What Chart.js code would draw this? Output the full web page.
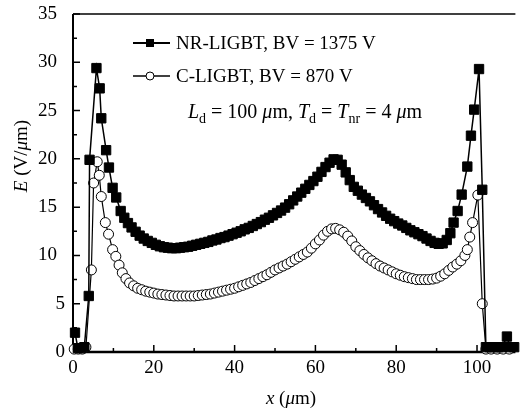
<!DOCTYPE html>
<html>
<head>
<meta charset="utf-8">
<script src="https://cdn.jsdelivr.net/npm/chart.js@4"></script>
<style>
  body { margin: 0; background: #fff; }
  canvas { display: block; }
</style>
</head>
<body>
<canvas id="field" width="523" height="411"></canvas>
<script>
// Electric field along the drift region
const nrX = [0.5, 1.2, 2.0, 2.8, 3.9, 4.1, 5.8, 6.6, 7.0, 8.2, 8.9, 9.8, 10.7, 11.8, 12.7,
  13.6, 14.5, 15.5, 16.5, 17.5, 18.5, 19.5, 20.5, 21.5, 22.5, 23.5, 24.5, 25.5, 26.5, 27.5,
  28.5, 29.5, 30.5, 31.5, 32.5, 33.5, 34.5, 35.5, 36.5, 37.5, 38.5, 39.5, 40.5, 41.5, 42.5,
  43.5, 44.5, 45.5, 46.5, 47.5, 48.5, 49.5, 50.5, 51.5, 52.5, 53.5, 54.5, 55.5, 56.5, 57.5,
  58.5, 59.5, 60.5, 61.5, 62.5, 63.5, 64.5, 65.5, 66.5, 67.5, 68.5, 69.5, 70.5, 71.5, 72.5,
  73.5, 74.5, 75.5, 76.5, 77.5, 78.5, 79.5, 80.5, 81.5, 82.5, 83.5, 84.5, 85.5, 86.5, 87.5,
  88.5, 89.5, 90.5, 91.5, 92.5, 93.4, 94.2, 95.2, 96.2, 97.6, 98.5, 99.3, 100.5, 101.3, 102.2,
  103.2, 104.2, 105.2, 106.2, 107.4, 108.2, 109.2];
const nrE = [2.0, 0.4, 0.4, 0.5, 5.8, 19.9, 29.4, 27.3, 24.2, 20.9, 19.1, 17.0, 16.0, 14.6, 13.9,
  13.35, 12.9, 12.45, 12.05, 11.75, 11.5, 11.3, 11.1, 10.95, 10.85, 10.8, 10.75, 10.75, 10.8, 10.85,
  10.9, 11.0, 11.1, 11.2, 11.3, 11.4, 11.55, 11.65, 11.8, 11.9, 12.05, 12.2, 12.35, 12.5, 12.7,
  12.85, 13.05, 13.25, 13.45, 13.7, 13.9, 14.15, 14.4, 14.65, 14.95, 15.3, 15.7, 16.1, 16.5, 16.9,
  17.3, 17.7, 18.15, 18.65, 19.15, 19.6, 19.95, 19.9, 19.4, 18.6, 17.8, 17.1, 16.7, 16.3, 15.95,
  15.6, 15.2, 14.8, 14.45, 14.1, 13.8, 13.55, 13.3, 13.1, 12.85, 12.6, 12.4, 12.2, 12.0, 11.75,
  11.5, 11.3, 11.2, 11.25, 11.6, 12.3, 13.4, 14.6, 16.3, 19.2, 22.4, 25.1, 29.3, 16.8, 0.5,
  0.5, 0.5, 0.5, 0.5, 1.6, 0.5, 0.5];

const cX = [0.3, 1.3, 2.3, 3.2, 4.55, 5.1, 6.0, 6.5, 7.0, 8.0, 8.8, 9.8, 10.6, 11.4, 12.2,
  13.1, 14.0, 15, 16, 17, 18, 19, 20, 21, 22, 23, 24, 25, 26, 27,
  28, 29, 30, 31, 32, 33, 34, 35, 36, 37, 38, 39, 40, 41, 42,
  43, 44, 45, 46, 47, 48, 49, 50, 51, 52, 53, 54, 55, 56, 57,
  58, 59, 60, 61, 62, 63, 64, 65, 66, 67, 68, 69, 70, 71, 72,
  73, 74, 75, 76, 77, 78, 79, 80, 81, 82, 83, 84, 85, 86, 87,
  88, 89, 90, 91, 92, 93, 94, 95, 96, 97, 97.6, 98.2, 98.9, 100.2, 101.3,
  102.2, 103.5, 105, 106.5, 108];
const cE = [0.3, 0.3, 0.3, 0.5, 8.5, 17.5, 19.7, 18.3, 16.1, 13.4, 12.2, 10.6, 9.9, 9.0, 8.2,
  7.6, 7.15, 6.85, 6.6, 6.45, 6.3, 6.2, 6.1, 6.0, 5.95, 5.9, 5.85, 5.8, 5.8, 5.8,
  5.8, 5.8, 5.8, 5.85, 5.9, 5.95, 6.0, 6.1, 6.2, 6.3, 6.4, 6.5, 6.6, 6.75, 6.9,
  7.05, 7.2, 7.4, 7.6, 7.8, 8.0, 8.25, 8.5, 8.7, 8.9, 9.1, 9.35, 9.6, 9.85, 10.1,
  10.35, 10.75, 11.2, 11.6, 12.1, 12.5, 12.75, 12.8, 12.65, 12.4, 12.0, 11.5, 10.9, 10.5, 10.1,
  9.75, 9.45, 9.15, 8.9, 8.7, 8.5, 8.3, 8.1, 7.95, 7.8, 7.7, 7.6, 7.5, 7.5, 7.5,
  7.5, 7.55, 7.65, 7.85, 8.1, 8.45, 8.8, 9.1, 9.45, 10.0, 10.6, 11.9, 13.4, 16.25, 5.0,
  0.3, 0.3, 0.3, 0.3, 0.3];

const xTicks = [0, 20, 40, 60, 80, 100];
const xMinor = [10, 30, 50, 70, 90];
const yTicks = [0, 5, 10, 15, 20, 25, 30, 35];
const yMinor = [2.5, 7.5, 12.5, 17.5, 22.5, 27.5, 32.5];
const seriesNames = ['NR-LIGBT, BV = 1375 V', 'C-LIGBT, BV = 870 V'];

const SERIF = '"Liberation Serif", "Times New Roman", serif';

function toPoints(xs, ys) {
  return xs.map((x, i) => ({ x: x, y: ys[i] }));
}

// draw a row of text pieces (italic / subscript) starting at x
function drawRuns(ctx, x, y, runs, align, size) {
  size = size || 19;
  const fontOf = r => (r.i ? 'italic ' : '') + (r.sub ? Math.round(size * 0.68) : size) + 'px ' + SERIF;
  let total = 0;
  runs.forEach(r => { ctx.font = fontOf(r); total += ctx.measureText(r.t).width; });
  let cx = align === 'center' ? x - total / 2 : x;
  ctx.textAlign = 'left';
  ctx.textBaseline = 'middle';
  runs.forEach(r => {
    ctx.font = fontOf(r);
    ctx.fillText(r.t, cx, r.sub ? y + 6 : y);
    cx += ctx.measureText(r.t).width;
  });
}

const frame = {
  id: 'frame',
  beforeDatasetsDraw(chart) {
    const ctx = chart.ctx;
    const a = chart.chartArea;
    const xs = chart.scales.x, ys = chart.scales.y;
    ctx.save();
    ctx.strokeStyle = '#000';
    // axes
    ctx.lineWidth = 1.3;
    ctx.beginPath(); ctx.moveTo(a.left, a.top); ctx.lineTo(a.right, a.top); ctx.stroke();
    ctx.lineWidth = 2;
    ctx.beginPath(); ctx.moveTo(a.left, a.top); ctx.lineTo(a.left, a.bottom); ctx.stroke();
    ctx.lineWidth = 2.5;
    ctx.beginPath(); ctx.moveTo(a.left - 1, a.bottom); ctx.lineTo(a.right, a.bottom); ctx.stroke();
    // inward ticks
    ctx.lineWidth = 1.5;
    ctx.beginPath();
    xTicks.forEach(v => { const p = xs.getPixelForValue(v); ctx.moveTo(p, a.bottom); ctx.lineTo(p, a.bottom - 7); });
    xMinor.forEach(v => { const p = xs.getPixelForValue(v); ctx.moveTo(p, a.bottom); ctx.lineTo(p, a.bottom - 4); });
    yTicks.forEach(v => { const p = ys.getPixelForValue(v); ctx.moveTo(a.left, p); ctx.lineTo(a.left + 7, p); });
    yMinor.forEach(v => { const p = ys.getPixelForValue(v); ctx.moveTo(a.left, p); ctx.lineTo(a.left + 4, p); });
    ctx.stroke();
    ctx.restore();
  },
  afterDraw(chart) {
    const ctx = chart.ctx;
    const a = chart.chartArea;
    const xs = chart.scales.x, ys = chart.scales.y;
    ctx.save();
    ctx.fillStyle = '#000';
    ctx.font = '19px ' + SERIF;
    ctx.textBaseline = 'middle';
    ctx.textAlign = 'center';
    xTicks.forEach(v => ctx.fillText(String(v), xs.getPixelForValue(v), a.bottom + 16));
    ctx.textAlign = 'right';
    yTicks.forEach(v => ctx.fillText(String(v), v < 10 ? a.left - 8 : a.left - 16, ys.getPixelForValue(v)));

    // axis titles
    drawRuns(ctx, 291, 399, [{ t: 'x', i: true }, { t: ' (' }, { t: 'μ', i: true }, { t: 'm)' }], 'center');
    ctx.save();
    ctx.translate(22, 156);
    ctx.rotate(-Math.PI / 2);
    drawRuns(ctx, 0, 0, [{ t: 'E', i: true }, { t: ' (V/' }, { t: 'μ', i: true }, { t: 'm)' }], 'center');
    ctx.restore();

    // legend
    ctx.strokeStyle = '#000';
    ctx.lineWidth = 2;
    ctx.beginPath(); ctx.moveTo(133, 43); ctx.lineTo(170, 43); ctx.stroke();
    ctx.fillRect(146, 39, 8, 8);
    ctx.lineWidth = 1.5;
    ctx.beginPath(); ctx.moveTo(133, 76); ctx.lineTo(170, 76); ctx.stroke();
    ctx.beginPath(); ctx.arc(150, 76, 4, 0, Math.PI * 2);
    ctx.fillStyle = '#fff'; ctx.fill(); ctx.lineWidth = 1; ctx.stroke();
    ctx.fillStyle = '#000';
    drawRuns(ctx, 176, 44, [{ t: seriesNames[0] }], 'left');
    drawRuns(ctx, 176, 77, [{ t: seriesNames[1] }], 'left');

    // device parameters
    drawRuns(ctx, 305, 113, [
      { t: 'L', i: true }, { t: 'd', sub: true }, { t: ' = 100 ' }, { t: 'μ', i: true }, { t: 'm, ' },
      { t: 'T', i: true }, { t: 'd', sub: true }, { t: ' = ' },
      { t: 'T', i: true }, { t: 'nr', sub: true }, { t: ' = 4 ' }, { t: 'μ', i: true }, { t: 'm' }
    ], 'center', 20);
    ctx.restore();
  }
};

new Chart(document.getElementById('field'), {
  type: 'scatter',
  data: {
    datasets: [{
      label: seriesNames[0],
      data: toPoints(nrX, nrE),
      showLine: true,
      borderColor: '#000',
      borderWidth: 1.5,
      backgroundColor: '#000',
      pointStyle: 'rect',
      pointRadius: 6.6,
      pointBorderWidth: 1,
      clip: false
    }, {
      label: seriesNames[1],
      data: toPoints(cX, cE),
      showLine: true,
      borderColor: '#000',
      borderWidth: 1.2,
      backgroundColor: '#fff',
      pointStyle: 'circle',
      pointRadius: 5,
      pointBorderWidth: 1,
      clip: false
    }]
  },
  options: {
    responsive: false,
    animation: false,
    layout: { padding: { top: 14, right: 0, left: 0, bottom: 0 } },
    plugins: { legend: { display: false }, tooltip: { enabled: false } },
    scales: {
      x: {
        type: 'linear', min: 0, max: 109.5,
        ticks: { display: false }, grid: { display: false }, border: { display: false },
        afterFit: s => { s.height = 59; }
      },
      y: {
        type: 'linear', min: 0, max: 35,
        ticks: { display: false }, grid: { display: false }, border: { display: false },
        afterFit: s => { s.width = 73; }
      }
    }
  },
  plugins: [frame]
});
</script>
</body>
</html>
